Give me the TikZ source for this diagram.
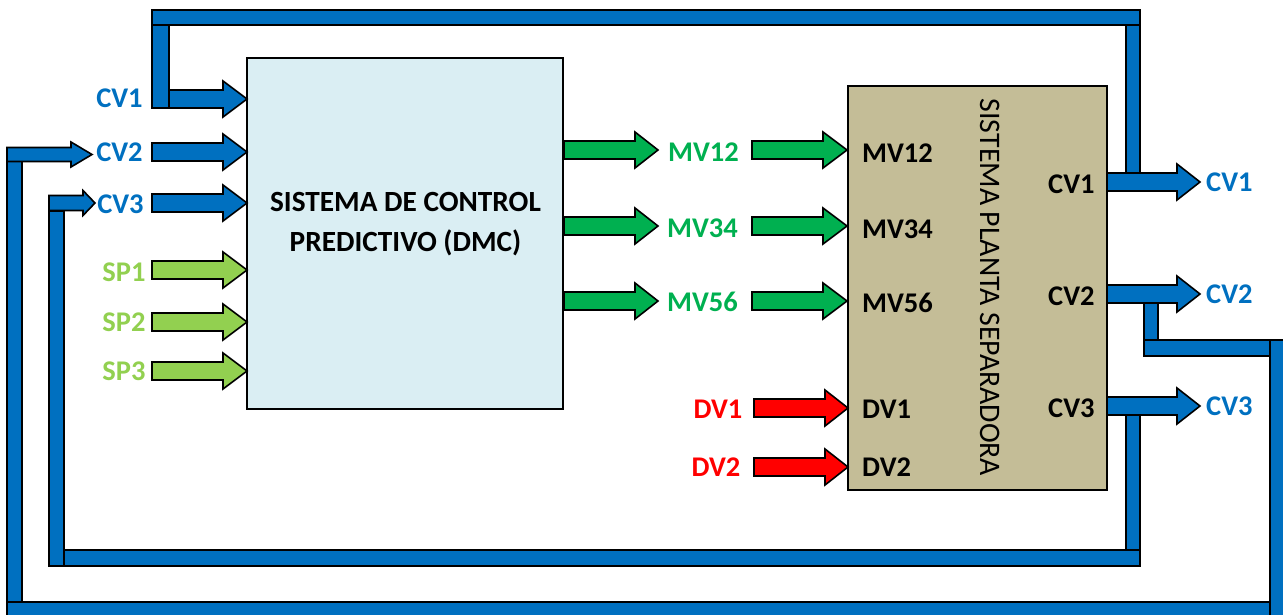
\documentclass[tikz,border=0pt]{standalone}
\usepackage{fontspec}
\setmainfont{Carlito}
\definecolor{cvblue}{HTML}{0070C0}
\definecolor{spgreen}{HTML}{92D050}
\definecolor{mvgreen}{HTML}{00B050}
\definecolor{dvred}{HTML}{FF0000}
\definecolor{dmcfill}{HTML}{DAEEF3}
\definecolor{plantfill}{HTML}{C4BD97}

% block arrow: start x, head-start x, tip x, centre y, half shaft, half head, colour
\newcommand\blockarrow[7]{%
  \filldraw[fill=#7,draw=black,line width=1.6pt,line join=miter]
    (#1,{#4-#5}) -- (#2,{#4-#5}) -- (#2,{#4-#6}) -- (#3,#4)
    -- (#2,{#4+#6}) -- (#2,{#4+#5}) -- (#1,{#4+#5}) -- cycle;}
% feedback bar segment between two corners
\newcommand\fbar[2]{\filldraw[fill=cvblue,draw=black,line width=1.6pt] #1 rectangle #2;}

\begin{document}
\begin{tikzpicture}[x=1pt,y=-1pt,
  lbl/.style={font=\fontsize{28.5}{31}\selectfont\bfseries,inner sep=0pt},
  boxstyle/.style={draw=black,line width=1.2pt,inner sep=0pt}]
\useasboundingbox (0,0) rectangle (1283,615);
\clip (0,0) rectangle (1283,615);

% main blocks
\node[boxstyle,fill=dmcfill,minimum width=316pt,minimum height=351pt] (dmc) at (405,233.5) {};
\node[boxstyle,fill=plantfill,minimum width=259pt,minimum height=404pt] (plant) at (977.5,288) {};

\node[lbl,font=\fontsize{29.3}{32}\selectfont\bfseries] (dmc1) at (405.5,202) {SISTEMA DE CONTROL};
\node[lbl,font=\fontsize{29.3}{32}\selectfont\bfseries] (dmc2) at (405.5,243) {PREDICTIVO (DMC)};
\node[inner sep=0pt,rotate=-90,font=\fontsize{29.8}{32}\selectfont] (ptitle) at (990,287.5) {SISTEMA PLANTA SEPARADORA};

% feedback path of CV1 (top)
\fbar{(152,10)}{(1140,25)}
\fbar{(152,25)}{(169,108)}
\fbar{(1126,25)}{(1140,174)}
% feedback path of CV2 (outer)
\fbar{(1144,302)}{(1158,340)}
\fbar{(1144,340)}{(1270,356)}
\fbar{(1270,340)}{(1284,616)}
\fbar{(7,602)}{(1270,616)}
\fbar{(7,161)}{(22,602)}
% feedback path of CV3 (inner)
\fbar{(1126,415)}{(1140,566)}
\fbar{(64,550)}{(1140,566)}
\fbar{(49,211)}{(64,566)}

% controller inputs
\blockarrow{169}{223}{247}{99}{9}{18}{cvblue}
\blockarrow{152}{223}{247}{152}{9}{18}{cvblue}
\blockarrow{152}{223}{247}{203}{9}{18}{cvblue}
\blockarrow{152}{223}{247}{270}{9}{18}{spgreen}
\blockarrow{152}{223}{247}{322}{9}{18}{spgreen}
\blockarrow{152}{223}{247}{371}{9}{18}{spgreen}
\blockarrow{7}{71}{92}{154.5}{7}{12.5}{cvblue}
\blockarrow{49}{83}{95}{203}{7.5}{12.5}{cvblue}

% manipulated variables
\blockarrow{564}{635}{658}{150}{9}{18}{mvgreen}
\blockarrow{564}{635}{658}{226}{9}{18}{mvgreen}
\blockarrow{564}{635}{658}{301}{9}{18}{mvgreen}
\blockarrow{752}{823}{847}{150}{9}{18}{mvgreen}
\blockarrow{752}{823}{847}{226}{9}{18}{mvgreen}
\blockarrow{752}{823}{847}{301}{9}{18}{mvgreen}

% disturbances
\blockarrow{754}{825}{848}{408}{9}{18}{dvred}
\blockarrow{754}{825}{848}{467}{9}{18}{dvred}

% plant outputs
\blockarrow{1107}{1177}{1200}{182}{9}{18}{cvblue}
\blockarrow{1107}{1177}{1200}{294}{9}{18}{cvblue}
\blockarrow{1107}{1177}{1200}{406}{9}{18}{cvblue}

% labels left of the controller
\node[lbl,text=cvblue] (lcv1) at (119.5,98) {CV1};
\node[lbl,text=cvblue] (lcv2) at (119.5,152) {CV2};
\node[lbl,text=cvblue] (lcv3) at (120.5,204) {CV3};
\node[lbl,text=spgreen] (lsp1) at (124,272) {SP1};
\node[lbl,text=spgreen] (lsp2) at (124,322) {SP2};
\node[lbl,text=spgreen] (lsp3) at (124,371) {SP3};

% manipulated variable labels
\node[lbl,text=mvgreen] (lmv12) at (703.5,152) {MV12};
\node[lbl,text=mvgreen] (lmv34) at (702.5,228) {MV34};
\node[lbl,text=mvgreen] (lmv56) at (702.5,302) {MV56};

% disturbance labels
\node[lbl,text=dvred] (ldv1) at (718,409) {DV1};
\node[lbl,text=dvred] (ldv2) at (716,467) {DV2};

% plant port labels
\node[lbl,anchor=west] (pmv12) at (862,153) {MV12};
\node[lbl,anchor=west] (pmv34) at (862,229) {MV34};
\node[lbl,anchor=west] (pmv56) at (862,303) {MV56};
\node[lbl,anchor=west] (pdv1) at (862,409) {DV1};
\node[lbl,anchor=west] (pdv2) at (862,467) {DV2};
\node[lbl,anchor=west] (pcv1) at (1048,184) {CV1};
\node[lbl,anchor=west] (pcv2) at (1048,296) {CV2};
\node[lbl,anchor=west] (pcv3) at (1048,408) {CV3};

% output labels
\node[lbl,text=cvblue,anchor=west] (ocv1) at (1206,182) {CV1};
\node[lbl,text=cvblue,anchor=west] (ocv2) at (1206,294) {CV2};
\node[lbl,text=cvblue,anchor=west] (ocv3) at (1206,406) {CV3};
\end{tikzpicture}
\end{document}
